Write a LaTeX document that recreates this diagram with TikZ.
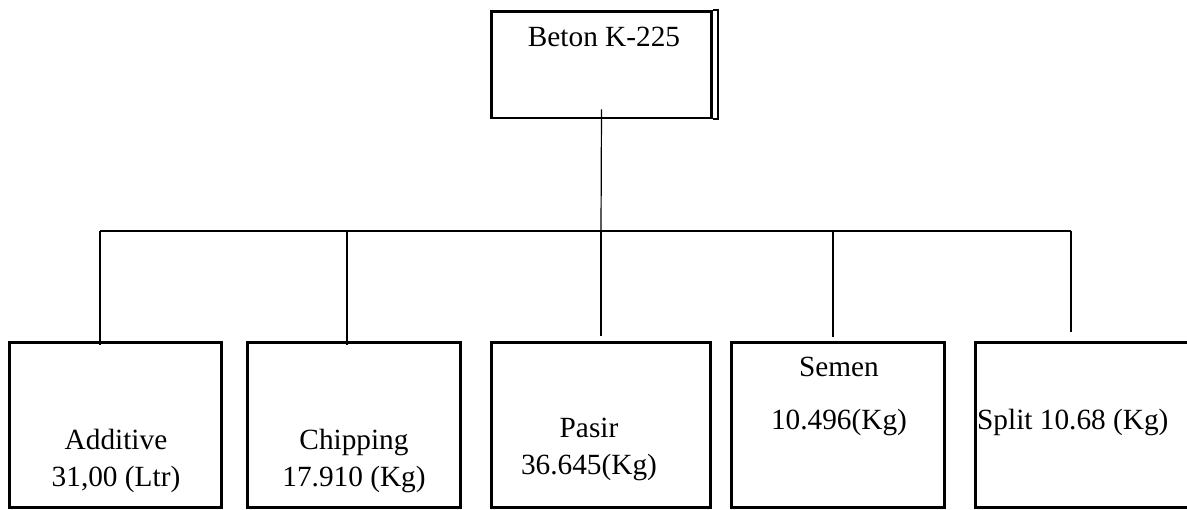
\documentclass[tikz,border=0pt]{standalone}
\usepackage{fontspec}
\setmainfont{Liberation Serif}
\usetikzlibrary{positioning, calc}

\tikzset{
  partbox/.style={draw, line width=2.6pt, minimum height=165pt, inner sep=0pt},
  link/.style={line width=1.2pt},
  lbl/.style={font=\fontsize{29.3}{37}\selectfont, inner sep=0pt, align=center}
}

\begin{document}
\begin{tikzpicture}[x=1pt, y=-1pt]
  \useasboundingbox (0,0) rectangle (1187,510);

  % Top box
  \node[draw, line width=2.6pt, minimum width=220pt, minimum height=106.5pt, inner sep=0pt] (beton) at (601.5,64.75) {};
  \draw[line width=2pt] (beton.north east) -- ++(5,0) -- ($(beton.south east)+(5,0)$) -- (beton.south east);
  \node[lbl, anchor=base] (betonlbl) at (604,47) {Beton K-225};

  % Bottom boxes
  \node[partbox, minimum width=212pt] (additive) at (115.5,425) {};
  \node[partbox, minimum width=213pt] (chipping) at (354,425) {};
  \node[partbox, minimum width=219pt] (pasir) at (601,425) {};
  \node[partbox, minimum width=213pt] (semen) at (838,425) {};
  \node[partbox, minimum width=214.5pt] (split) at (1082.75,425) {};

  % Labels (base = last line)
  \node[lbl, anchor=base] (additivelbl) at (116,487) {Additive\\31,00 (Ltr)};
  \node[lbl, anchor=base] (chippinglbl) at (354,487) {Chipping\\17.910 (Kg)};
  \node[lbl, anchor=base] (pasirlbl) at (589,475) {Pasir\\36.645(Kg)};
  \node[lbl, anchor=base] (semenlbl) at (839,430) {Semen\\[16pt]10.496(Kg)};
  \node[lbl, anchor=base west] (splitlbl) at (977,430) {Split 10.68 (Kg)};

  % Connectors
  \coordinate (d1) at (100,231);
  \coordinate (d2) at (347,231);
  \coordinate (d3) at (601,231);
  \coordinate (d4) at (833,231);
  \coordinate (d5) at (1071,231);
  \draw[link] ([yshift=10pt]beton.south) -- (d3);
  \draw[link] (d1) -- (d5);
  \draw[link, shorten >=-4pt] (d1) -- (d1 |- additive.north);
  \draw[link, shorten >=-4pt] (d2) -- (d2 |- chipping.north);
  \draw[link, shorten >=5pt] (d3) -- (d3 |- pasir.north);
  \draw[link, shorten >=4pt] (d4) -- (d4 |- semen.north);
  \draw[link, shorten >=9pt] (d5) -- (d5 |- split.north);
\end{tikzpicture}
\end{document}
